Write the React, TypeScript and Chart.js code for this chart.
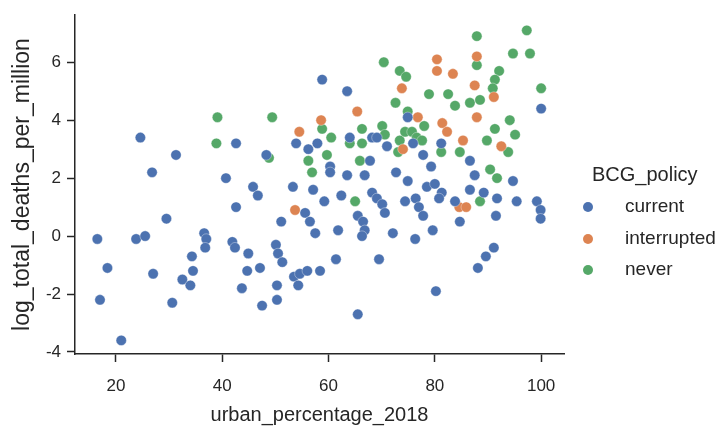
import React, { useEffect, useRef } from "react";
import { Chart, registerables } from "chart.js";

Chart.register(...registerables);

const categories = ["current", "interrupted", "never"];
const seriesColors = ["#4C72B0", "#DD8452", "#55A868"];

// [urban_percentage_2018, log_total_deaths_per_million]
const currentPoints: [number, number][] = [
  [16.5, -0.1], [17.0, -2.2], [18.4, -1.1], [21.0, -3.6], [23.8, -0.1], [25.5, 0.0],
  [24.6, 3.4], [26.8, 2.2], [27.0, -1.3], [29.5, 0.6], [30.6, -2.3], [31.3, 2.8],
  [32.5, -1.5], [34.0, -1.7], [34.3, -0.7], [34.5, -1.2], [36.6, 0.1], [37.0, -0.1],
  [36.8, -0.4], [40.7, 2.0], [42.6, 3.2], [42.6, 1.0], [41.9, -0.2], [42.4, -0.4],
  [43.7, -1.8], [44.9, -0.6], [44.7, -1.2], [45.8, 1.7], [46.7, 1.4], [47.1, -1.1],
  [47.5, -2.4], [48.3, 2.8], [50.1, -0.3], [50.5, -0.6], [51.3, -0.9], [50.3, -1.7],
  [50.3, -2.2], [51.1, 0.5], [53.3, 1.7], [53.9, 3.2], [53.5, -1.4], [54.6, -1.3],
  [54.3, -1.7], [56.0, -1.2], [55.6, 0.8], [56.5, 0.5], [57.5, 0.1], [58.4, -1.2],
  [56.2, 3.0], [57.1, 1.6], [57.9, 3.2], [58.8, 5.4], [59.2, 1.2], [60.3, 2.4],
  [60.3, 2.2], [61.8, 0.2], [61.4, -0.8], [62.4, 1.4], [63.5, 2.1], [63.5, 5.0],
  [64.0, 3.4], [65.5, 0.7], [66.5, 0.5], [66.8, 0.2], [66.3, 0.0], [65.5, -2.7],
  [66.8, 2.1], [67.8, 2.6], [68.2, 3.4], [69.1, 3.4], [68.2, 1.5], [69.1, 1.3],
  [70.1, 1.1], [70.6, 0.8], [69.5, -0.8], [71.0, 3.1], [72.1, 0.1], [72.7, 2.2],
  [74.4, 1.2], [76.4, 1.3], [74.9, 1.9], [74.9, 4.1], [75.9, 3.2], [76.3, -0.1],
  [77.0, 1.0], [77.8, 0.7], [77.8, 2.8], [79.3, 2.4], [78.5, 1.7], [80.0, 1.8],
  [81.3, 1.5], [80.8, 1.3], [79.6, 0.2], [80.2, -1.9], [81.2, 3.2], [83.8, 1.2],
  [84.7, 0.5], [86.6, 2.6], [87.5, 2.1], [86.6, 1.6], [89.2, 1.5], [91.7, 1.3],
  [91.5, 0.7], [94.7, 1.9], [95.4, 1.2], [99.2, 1.2], [99.9, 0.9], [99.9, 0.6],
  [100.0, 4.4], [91.1, -0.4], [89.6, -0.7], [88.1, -1.1],
];

const interruptedPoints: [number, number][] = [
  [54.5, 3.6], [53.7, 0.9], [58.6, 4.0], [65.4, 4.3], [73.8, 5.1], [74.0, 3.0],
  [76.8, 4.1], [80.4, 6.1], [80.4, 5.7], [83.4, 5.6], [87.9, 6.2], [87.5, 5.2],
  [91.1, 4.8], [87.9, 4.1], [81.4, 3.9], [82.3, 3.6], [85.3, 3.3], [92.5, 3.1],
  [84.6, 1.0], [85.9, 1.0],
];

const neverPoints: [number, number][] = [
  [39.1, 4.1], [38.9, 3.2], [49.4, 4.1], [48.8, 2.7], [56.2, 2.6], [56.9, 2.2],
  [58.8, 3.7], [60.5, 3.4], [59.7, 2.8], [64.0, 3.2], [66.3, 3.7], [66.3, 3.2],
  [65.9, 2.6], [65.0, 1.2], [70.1, 3.8], [70.6, 3.5], [73.1, 2.9], [73.4, 3.3],
  [74.4, 3.6], [75.7, 3.6], [76.6, 3.4], [72.6, 4.6], [74.9, 4.3], [70.4, 6.0],
  [73.4, 5.7], [74.6, 5.5], [78.9, 4.9], [82.5, 4.9], [83.8, 4.5], [86.6, 4.6],
  [88.5, 4.7], [87.9, 6.9], [97.3, 7.1], [94.7, 6.3], [97.9, 6.3], [87.9, 5.9],
  [92.1, 5.7], [91.3, 5.4], [90.9, 5.1], [100.0, 5.1], [94.1, 4.0], [91.3, 3.7],
  [95.1, 3.5], [89.8, 3.3], [93.8, 2.9], [90.4, 2.3], [91.7, 2.0], [88.5, 1.2],
  [78.0, 3.8], [77.6, 3.3], [81.2, 2.9], [84.7, 2.9],
];

const xTicks = [20, 40, 60, 80, 100];
const yTicks = [-4, -2, 0, 2, 4, 6];
const xTitle = "urban_percentage_2018";
const yTitle = "log_total_deaths_per_million";
const legendTitle = "BCG_policy";

const W = 717;
const H = 428;
const FONT = "'Liberation Sans', Arial, sans-serif";
const TEXT = "#262626";

export default function App() {
  const ref = useRef<HTMLCanvasElement | null>(null);

  useEffect(() => {
    document.body.style.margin = "0";
    const canvas = ref.current;
    if (!canvas) return;

    const sideLegend = {
      id: "sideLegend",
      afterDraw(chart: any) {
        const ctx = chart.ctx;
        ctx.save();
        ctx.textBaseline = "middle";
        ctx.textAlign = "left";
        ctx.fillStyle = TEXT;
        ctx.font = `20px ${FONT}`;
        ctx.fillText(legendTitle, 592, 175);
        const ys = [207, 239, 270];
        categories.forEach((c, i) => {
          ctx.beginPath();
          ctx.arc(588, ys[i], 5, 0, Math.PI * 2);
          ctx.fillStyle = seriesColors[i];
          ctx.fill();
          ctx.fillStyle = TEXT;
          ctx.font = `19px ${FONT}`;
          ctx.fillText(c, 625, ys[i]);
        });
        ctx.restore();
      },
    };

    const whiteBg = {
      id: "whiteBg",
      beforeDraw(chart: any) {
        const ctx = chart.ctx;
        ctx.save();
        ctx.fillStyle = "#ffffff";
        ctx.fillRect(0, 0, chart.width, chart.height);
        ctx.restore();
      },
    };

    const pointSets = [currentPoints, interruptedPoints, neverPoints];

    const chart = new Chart(canvas, {
      type: "scatter",
      data: {
        datasets: categories.map((c, i) => ({
          label: c,
          data: pointSets[i].map(([x, y]) => ({ x, y })),
          backgroundColor: seriesColors[i],
          borderColor: "rgba(255,255,255,0.7)",
          borderWidth: 0.5,
          pointRadius: 5.2,
          pointHoverRadius: 5.2,
        })),
      },
      options: {
        responsive: false,
        animation: false,
        devicePixelRatio: 1,
        events: [],
        layout: { padding: { left: 0, top: 15, right: 153, bottom: 0 } },
        plugins: {
          legend: { display: false },
          tooltip: { enabled: false },
        },
        scales: {
          x: {
            type: "linear",
            min: 12.3,
            max: 104.3,
            afterBuildTicks: (s: any) => {
              s.ticks = xTicks.map((v) => ({ value: v }));
            },
            afterFit: (s: any) => {
              s.height = 74;
              s.paddingLeft = 0;
              s.paddingRight = 0;
            },
            grid: {
              display: true,
              drawOnChartArea: false,
              drawTicks: true,
              tickLength: 8,
              tickColor: TEXT,
              tickWidth: 1.5,
            },
            border: { display: true, color: TEXT, width: 1.5 },
            ticks: {
              color: TEXT,
              font: { size: 17, family: FONT },
              padding: 14,
              maxRotation: 0,
              autoSkip: false,
            },
            title: {
              display: true,
              text: xTitle,
              color: TEXT,
              font: { size: 20, family: FONT },
              padding: { top: 0, bottom: 1 },
            },
          },
          y: {
            type: "linear",
            min: -4.07,
            max: 7.63,
            afterBuildTicks: (s: any) => {
              s.ticks = yTicks.map((v) => ({ value: v }));
            },
            afterFit: (s: any) => {
              s.width = 75;
              s.paddingTop = 0;
              s.paddingBottom = 0;
            },
            grid: {
              display: true,
              drawOnChartArea: false,
              drawTicks: true,
              tickLength: 8,
              tickColor: TEXT,
              tickWidth: 1.5,
            },
            border: { display: true, color: TEXT, width: 1.5 },
            ticks: {
              color: TEXT,
              font: { size: 17, family: FONT },
              padding: 6,
              autoSkip: false,
            },
            title: {
              display: true,
              text: yTitle,
              color: TEXT,
              font: { size: 23, family: FONT },
              padding: { top: 9, bottom: 0 },
            },
          },
        },
      },
      plugins: [whiteBg, sideLegend],
    } as any);

    return () => {
      chart.destroy();
    };
  }, []);

  return (
    <div style={{ position: "absolute", left: 0, top: 0, width: W, height: H, background: "#fff" }}>
      <canvas ref={ref} width={W} height={H} style={{ display: "block", width: W, height: H }} />
    </div>
  );
}
